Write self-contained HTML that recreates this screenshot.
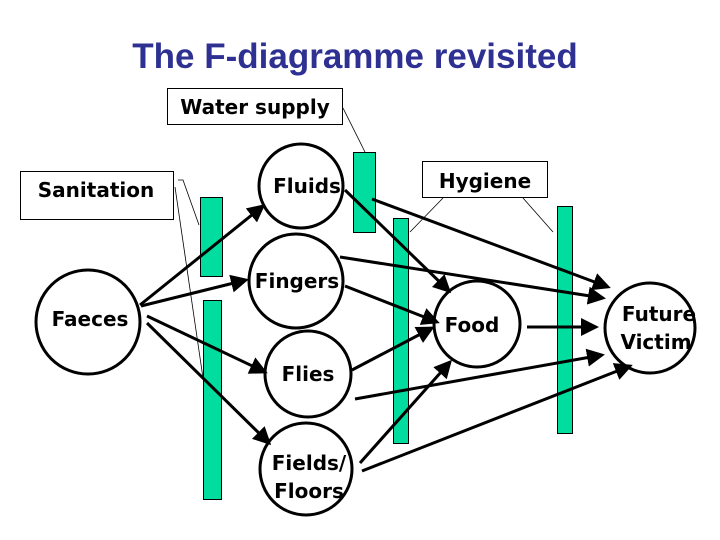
<!DOCTYPE html>
<html><head><meta charset="utf-8"><style>
html,body{margin:0;padding:0;background:#fff;}
svg{display:block;}
.t{font-family:"DejaVu Sans","Liberation Sans",sans-serif;font-weight:bold;font-size:20px;fill:#000;}
</style></head><body>
<svg width="720" height="540" viewBox="0 0 720 540" xmlns="http://www.w3.org/2000/svg">
<defs>
<marker id="a" markerWidth="6" markerHeight="6" refX="5" refY="3" orient="auto" markerUnits="strokeWidth">
<path d="M0,0 L6,3 L0,6 z" fill="#000"/>
</marker>
</defs>
<text x="355" y="68" text-anchor="middle" font-family="Liberation Sans, sans-serif" font-weight="bold" font-size="35" fill="#2E3192">The F-diagramme revisited</text>

<g fill="#fff" stroke="#000" stroke-width="1">
<rect x="167.5" y="88.5" width="175" height="36"/>
<rect x="20.5" y="171.5" width="153" height="48"/>
<rect x="422.5" y="161.5" width="125" height="36"/>
</g>
<text class="t" x="255" y="114" text-anchor="middle">Water supply</text>
<text class="t" x="96" y="197" text-anchor="middle">Sanitation</text>
<text class="t" x="485" y="188" text-anchor="middle">Hygiene</text>

<!-- thin connectors -->
<g stroke="#000" stroke-width="0.8" fill="none">
<polyline points="343,108 365,152"/>
<polyline points="178,180 183,180 199,225"/>
<polyline points="175,187 203,378"/>
<polyline points="443,198 410,232"/>
<polyline points="523,198 553,232"/>
</g>

<!-- bars -->
<g fill="#00DD9E" stroke="#000" stroke-width="1">
<rect x="200.5" y="197.5" width="22" height="79"/>
<rect x="203.5" y="300.5" width="18" height="199"/>
<rect x="353.5" y="152.5" width="22" height="80"/>
<rect x="393.5" y="218.5" width="15" height="225"/>
<rect x="557.5" y="206.5" width="15" height="227"/>
</g>

<!-- circles -->
<g fill="none" stroke="#000" stroke-width="3">
<circle cx="301" cy="186" r="42"/>
<circle cx="296" cy="281" r="47"/>
<circle cx="88" cy="322" r="52"/>
<circle cx="308" cy="374" r="43"/>
<circle cx="306" cy="469" r="46"/>
<circle cx="477" cy="324" r="43"/>
<circle cx="650" cy="328" r="45"/>
</g>

<!-- arrows -->
<g stroke="#000" stroke-width="3" fill="none" marker-end="url(#a)">
<line x1="140" y1="305" x2="263" y2="206"/>
<line x1="141" y1="306" x2="246" y2="280"/>
<line x1="147" y1="316" x2="265" y2="372"/>
<line x1="147" y1="323" x2="269" y2="443"/>
<line x1="345" y1="190" x2="449" y2="291"/>
<line x1="372" y1="199" x2="608" y2="287"/>
<line x1="340" y1="257" x2="603" y2="298"/>
<line x1="345" y1="286" x2="437" y2="322"/>
<line x1="352" y1="370" x2="432" y2="328"/>
<line x1="355" y1="399" x2="602" y2="355"/>
<line x1="360" y1="463" x2="450" y2="362"/>
<line x1="362" y1="471" x2="630" y2="366"/>
<line x1="527" y1="327" x2="596" y2="327"/>
</g>

<text class="t" x="307" y="193" text-anchor="middle">Fluids</text>
<text class="t" x="297" y="288" text-anchor="middle">Fingers</text>
<text class="t" x="90" y="326" text-anchor="middle">Faeces</text>
<text class="t" x="308" y="381" text-anchor="middle">Flies</text>
<text class="t" x="309" y="470" text-anchor="middle">Fields/</text>
<text class="t" x="309" y="498" text-anchor="middle">Floors</text>
<text class="t" x="472" y="332" text-anchor="middle">Food</text>
<text class="t" x="659" y="321" text-anchor="middle">Future</text>
<text class="t" x="656" y="349" text-anchor="middle">Victim</text>
</svg>
</body></html>
